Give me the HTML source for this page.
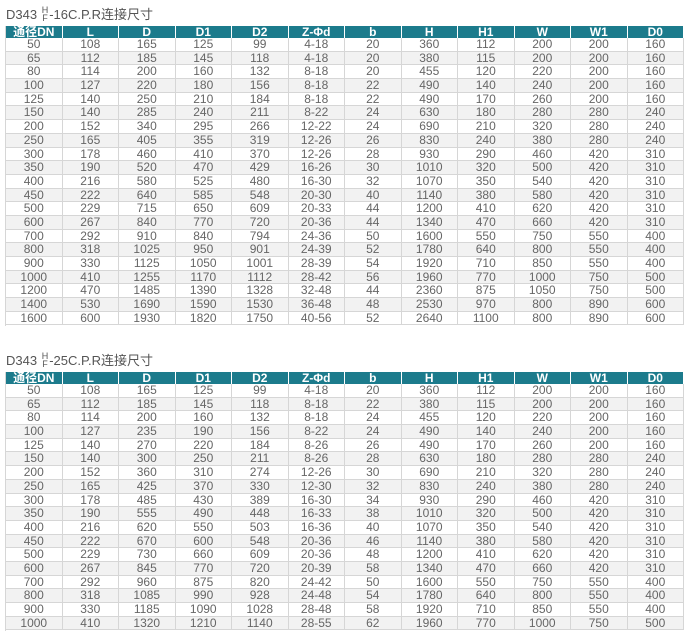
<!DOCTYPE html>
<html><head><meta charset="utf-8"><style>
body{margin:0;width:691px;height:640px;background:#fff;position:relative;overflow:hidden;font-family:"Liberation Sans","Noto Sans CJK SC",sans-serif;}
.t{position:absolute;left:5px;width:679px;display:grid;grid-template-columns:repeat(12,1fr);border-left:1px solid #d6d6d6;box-sizing:border-box;overflow:hidden}
.t1{top:26px;height:300px;grid-template-rows:12px repeat(21,13.7px)}
.t2{top:372px;height:259px;grid-template-rows:12px repeat(18,13.7px)}
.r{display:contents}
.r>div{min-width:0;min-height:0;text-align:center;font-size:12px;line-height:13px;color:#666;border-right:1px solid #d6d6d6;border-bottom:1px solid #d6d6d6;box-sizing:border-box;white-space:nowrap;overflow:hidden;}
.t .r:nth-child(odd)>div{background:#f2f2f2}
.t .h>div{background:#1c7b8c!important;color:#fff;font-weight:bold;line-height:12px;border-right:1px solid #fff;border-bottom:none}
.title{position:absolute;left:6px;font-size:13px;color:#555;}
.fr{display:inline-block;vertical-align:middle;font-size:9px;line-height:8px;text-align:center;margin:0 1px;position:relative;top:-2px}
</style></head><body>
<div class="title" style="top:4px">D343 <span class="fr">H<br>F</span>-16C.P.R连接尺寸</div>
<div class="t t1">
<div class="r h"><div>通径DN</div><div>L</div><div>D</div><div>D1</div><div>D2</div><div>Z-Φd</div><div>b</div><div>H</div><div>H1</div><div>W</div><div>W1</div><div>D0</div></div>
<div class="r"><div>50</div><div>108</div><div>165</div><div>125</div><div>99</div><div>4-18</div><div>20</div><div>360</div><div>112</div><div>200</div><div>200</div><div>160</div></div>
<div class="r"><div>65</div><div>112</div><div>185</div><div>145</div><div>118</div><div>4-18</div><div>20</div><div>380</div><div>115</div><div>200</div><div>200</div><div>160</div></div>
<div class="r"><div>80</div><div>114</div><div>200</div><div>160</div><div>132</div><div>8-18</div><div>20</div><div>455</div><div>120</div><div>220</div><div>200</div><div>160</div></div>
<div class="r"><div>100</div><div>127</div><div>220</div><div>180</div><div>156</div><div>8-18</div><div>22</div><div>490</div><div>140</div><div>240</div><div>200</div><div>160</div></div>
<div class="r"><div>125</div><div>140</div><div>250</div><div>210</div><div>184</div><div>8-18</div><div>22</div><div>490</div><div>170</div><div>260</div><div>200</div><div>160</div></div>
<div class="r"><div>150</div><div>140</div><div>285</div><div>240</div><div>211</div><div>8-22</div><div>24</div><div>630</div><div>180</div><div>280</div><div>280</div><div>240</div></div>
<div class="r"><div>200</div><div>152</div><div>340</div><div>295</div><div>266</div><div>12-22</div><div>24</div><div>690</div><div>210</div><div>320</div><div>280</div><div>240</div></div>
<div class="r"><div>250</div><div>165</div><div>405</div><div>355</div><div>319</div><div>12-26</div><div>26</div><div>830</div><div>240</div><div>380</div><div>280</div><div>240</div></div>
<div class="r"><div>300</div><div>178</div><div>460</div><div>410</div><div>370</div><div>12-26</div><div>28</div><div>930</div><div>290</div><div>460</div><div>420</div><div>310</div></div>
<div class="r"><div>350</div><div>190</div><div>520</div><div>470</div><div>429</div><div>16-26</div><div>30</div><div>1010</div><div>320</div><div>500</div><div>420</div><div>310</div></div>
<div class="r"><div>400</div><div>216</div><div>580</div><div>525</div><div>480</div><div>16-30</div><div>32</div><div>1070</div><div>350</div><div>540</div><div>420</div><div>310</div></div>
<div class="r"><div>450</div><div>222</div><div>640</div><div>585</div><div>548</div><div>20-30</div><div>40</div><div>1140</div><div>380</div><div>580</div><div>420</div><div>310</div></div>
<div class="r"><div>500</div><div>229</div><div>715</div><div>650</div><div>609</div><div>20-33</div><div>44</div><div>1200</div><div>410</div><div>620</div><div>420</div><div>310</div></div>
<div class="r"><div>600</div><div>267</div><div>840</div><div>770</div><div>720</div><div>20-36</div><div>44</div><div>1340</div><div>470</div><div>660</div><div>420</div><div>310</div></div>
<div class="r"><div>700</div><div>292</div><div>910</div><div>840</div><div>794</div><div>24-36</div><div>50</div><div>1600</div><div>550</div><div>750</div><div>550</div><div>400</div></div>
<div class="r"><div>800</div><div>318</div><div>1025</div><div>950</div><div>901</div><div>24-39</div><div>52</div><div>1780</div><div>640</div><div>800</div><div>550</div><div>400</div></div>
<div class="r"><div>900</div><div>330</div><div>1125</div><div>1050</div><div>1001</div><div>28-39</div><div>54</div><div>1920</div><div>710</div><div>850</div><div>550</div><div>400</div></div>
<div class="r"><div>1000</div><div>410</div><div>1255</div><div>1170</div><div>1112</div><div>28-42</div><div>56</div><div>1960</div><div>770</div><div>1000</div><div>750</div><div>500</div></div>
<div class="r"><div>1200</div><div>470</div><div>1485</div><div>1390</div><div>1328</div><div>32-48</div><div>44</div><div>2360</div><div>875</div><div>1050</div><div>750</div><div>500</div></div>
<div class="r"><div>1400</div><div>530</div><div>1690</div><div>1590</div><div>1530</div><div>36-48</div><div>48</div><div>2530</div><div>970</div><div>800</div><div>890</div><div>600</div></div>
<div class="r"><div>1600</div><div>600</div><div>1930</div><div>1820</div><div>1750</div><div>40-56</div><div>52</div><div>2640</div><div>1100</div><div>800</div><div>890</div><div>600</div></div>
</div>
<div class="title" style="top:350px">D343 <span class="fr">H<br>F</span>-25C.P.R连接尺寸</div>
<div class="t t2">
<div class="r h"><div>通径DN</div><div>L</div><div>D</div><div>D1</div><div>D2</div><div>Z-Φd</div><div>b</div><div>H</div><div>H1</div><div>W</div><div>W1</div><div>D0</div></div>
<div class="r"><div>50</div><div>108</div><div>165</div><div>125</div><div>99</div><div>4-18</div><div>20</div><div>360</div><div>112</div><div>200</div><div>200</div><div>160</div></div>
<div class="r"><div>65</div><div>112</div><div>185</div><div>145</div><div>118</div><div>8-18</div><div>22</div><div>380</div><div>115</div><div>200</div><div>200</div><div>160</div></div>
<div class="r"><div>80</div><div>114</div><div>200</div><div>160</div><div>132</div><div>8-18</div><div>24</div><div>455</div><div>120</div><div>220</div><div>200</div><div>160</div></div>
<div class="r"><div>100</div><div>127</div><div>235</div><div>190</div><div>156</div><div>8-22</div><div>24</div><div>490</div><div>140</div><div>240</div><div>200</div><div>160</div></div>
<div class="r"><div>125</div><div>140</div><div>270</div><div>220</div><div>184</div><div>8-26</div><div>26</div><div>490</div><div>170</div><div>260</div><div>200</div><div>160</div></div>
<div class="r"><div>150</div><div>140</div><div>300</div><div>250</div><div>211</div><div>8-26</div><div>28</div><div>630</div><div>180</div><div>280</div><div>280</div><div>240</div></div>
<div class="r"><div>200</div><div>152</div><div>360</div><div>310</div><div>274</div><div>12-26</div><div>30</div><div>690</div><div>210</div><div>320</div><div>280</div><div>240</div></div>
<div class="r"><div>250</div><div>165</div><div>425</div><div>370</div><div>330</div><div>12-30</div><div>32</div><div>830</div><div>240</div><div>380</div><div>280</div><div>240</div></div>
<div class="r"><div>300</div><div>178</div><div>485</div><div>430</div><div>389</div><div>16-30</div><div>34</div><div>930</div><div>290</div><div>460</div><div>420</div><div>310</div></div>
<div class="r"><div>350</div><div>190</div><div>555</div><div>490</div><div>448</div><div>16-33</div><div>38</div><div>1010</div><div>320</div><div>500</div><div>420</div><div>310</div></div>
<div class="r"><div>400</div><div>216</div><div>620</div><div>550</div><div>503</div><div>16-36</div><div>40</div><div>1070</div><div>350</div><div>540</div><div>420</div><div>310</div></div>
<div class="r"><div>450</div><div>222</div><div>670</div><div>600</div><div>548</div><div>20-36</div><div>46</div><div>1140</div><div>380</div><div>580</div><div>420</div><div>310</div></div>
<div class="r"><div>500</div><div>229</div><div>730</div><div>660</div><div>609</div><div>20-36</div><div>48</div><div>1200</div><div>410</div><div>620</div><div>420</div><div>310</div></div>
<div class="r"><div>600</div><div>267</div><div>845</div><div>770</div><div>720</div><div>20-39</div><div>58</div><div>1340</div><div>470</div><div>660</div><div>420</div><div>310</div></div>
<div class="r"><div>700</div><div>292</div><div>960</div><div>875</div><div>820</div><div>24-42</div><div>50</div><div>1600</div><div>550</div><div>750</div><div>550</div><div>400</div></div>
<div class="r"><div>800</div><div>318</div><div>1085</div><div>990</div><div>928</div><div>24-48</div><div>54</div><div>1780</div><div>640</div><div>800</div><div>550</div><div>400</div></div>
<div class="r"><div>900</div><div>330</div><div>1185</div><div>1090</div><div>1028</div><div>28-48</div><div>58</div><div>1920</div><div>710</div><div>850</div><div>550</div><div>400</div></div>
<div class="r"><div>1000</div><div>410</div><div>1320</div><div>1210</div><div>1140</div><div>28-55</div><div>62</div><div>1960</div><div>770</div><div>1000</div><div>750</div><div>500</div></div>
</div>
</body></html>
